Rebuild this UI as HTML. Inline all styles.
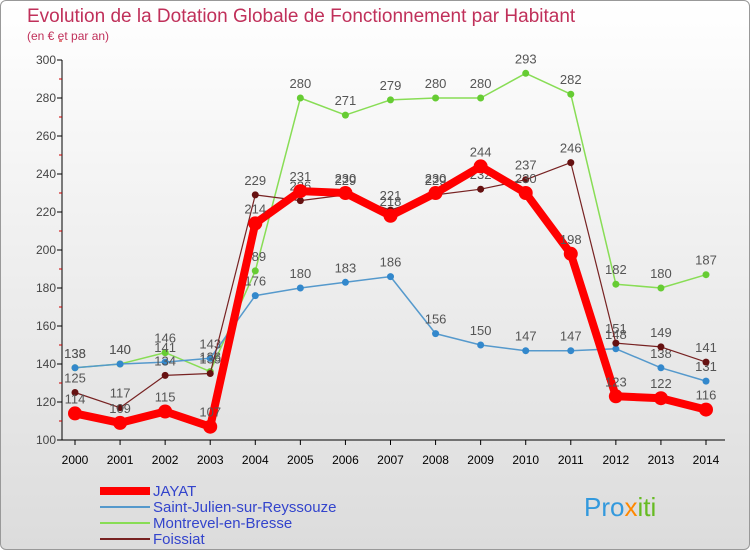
<!DOCTYPE html>
<html><head><meta charset="utf-8"><style>
body{margin:0;width:750px;height:550px;overflow:hidden;font-family:"Liberation Sans",sans-serif}
#wrap{position:absolute;left:0;top:0;width:748px;height:548px;border:1px solid #999;border-radius:6px;background:linear-gradient(#ffffff,#dcdcdc)}
</style></head><body>
<div id="wrap">
<svg id="svg" width="750" height="550" style="position:absolute;left:-1px;top:-1px">
<text x="27" y="22" font-size="19" fill="#c0305a">Evolution de la Dotation Globale de Fonctionnement par Habitant</text>
<text x="27" y="40" font-size="12" fill="#c0305a">(en € et par an)</text>
<g id="axes"></g><g id="series"></g><g id="legend"></g>
<text x="584" y="516" font-size="26" fill="#3399dd">Pro<tspan fill="#ff8800">x</tspan><tspan fill="#66bb22">iti</tspan></text>
</svg></div>
<script>
const years=[2000,2001,2002,2003,2004,2005,2006,2007,2008,2009,2010,2011,2012,2013,2014];
const yTicks=[100,120,140,160,180,200,220,240,260,280,300];
const jayat=[114,109,115,107,214,231,230,218,230,244,230,198,123,122,116];
const stJulien=[138,140,141,143,176,180,183,186,156,150,147,147,148,138,131];
const montrevel=[138,140,146,136,189,280,271,279,280,280,293,282,182,180,187];
const foissiat=[125,117,134,135,229,226,229,221,229,232,237,246,151,149,141];
const NS="http://www.w3.org/2000/svg";
const X=i=>75+i*(706-75)/(years.length-1);
const Y=v=>440-(v-100)*380/200;
function mk(t,a,p){const e=document.createElementNS(NS,t);for(const k in a)e.setAttribute(k,a[k]);p.appendChild(e);return e;}
const ax=document.getElementById('axes');
const yl=mk('line',{x1:62,y1:Y(300),x2:62,y2:440,stroke:'#000'},ax);


const xl=mk('line',{x1:62,y1:440,x2:725,y2:440,stroke:'#000'},ax);


yTicks.forEach(v=>{
 mk('line',{x1:57,y1:Y(v),x2:62,y2:Y(v),stroke:'#000'},ax);
 mk('line',{x1:59,y1:Y(v+10),x2:62,y2:Y(v+10),stroke:'#c00'},ax);
 const t=mk('text',{x:56,y:Y(v)+4,'font-size':12,'text-anchor':'end',fill:'#444'},ax);t.textContent=v;
 
 
});
years.forEach((y,i)=>{
 mk('line',{x1:X(i),y1:440,x2:X(i),y2:445,stroke:'#000'},ax);
 const t=mk('text',{x:X(i),y:464,'font-size':12,'text-anchor':'middle',fill:'#000'},ax);t.textContent=y;
 
 
});
const sg=document.getElementById('series');
const series=[
 {d:montrevel,c:'#88dd55',f:'#66cc33',w:1.5,r:3.5,n:'montrevel-line'},
 {d:stJulien,c:'#5599cc',f:'#3388cc',w:1.5,r:3.5,n:'saint-julien-line'},
 {d:foissiat,c:'#772222',f:'#661111',w:1.2,r:3.5,n:'foissiat-line'},
 {d:jayat,c:'#ff0000',f:'#ff0000',w:8,r:7,n:'jayat-line'}];
series.forEach(s=>{
 const g=mk('g',{},sg);
 
 
 mk('polyline',{points:s.d.map((v,i)=>X(i)+','+Y(v)).join(' '),fill:'none',stroke:s.c,'stroke-width':s.w,'stroke-linejoin':'round'},g);
 s.d.forEach((v,i)=>{
  const c=mk('circle',{cx:X(i),cy:Y(v),r:s.r,fill:s.f},g);
  
  
  const t=mk('text',{x:X(i),y:Y(v)-10,'font-size':13,'text-anchor':'middle',fill:'#555'},g);t.textContent=v;
  
  
 });
});
const lg=document.getElementById('legend');
const leg=[['JAYAT','#ff0000',8],['Saint-Julien-sur-Reyssouze','#5599cc',2],['Montrevel-en-Bresse','#88dd55',2],['Foissiat','#772222',2]];
leg.forEach((l,i)=>{
 const y=491+i*16;
 const g=mk('g',{},lg);
 
 
 mk('line',{x1:100,y1:y,x2:150,y2:y,stroke:l[1],'stroke-width':l[2]},g);
 const t=mk('text',{x:153,y:y+5,'font-size':15,fill:'#3344cc'},g);t.textContent=l[0];
});
</script></body></html>
